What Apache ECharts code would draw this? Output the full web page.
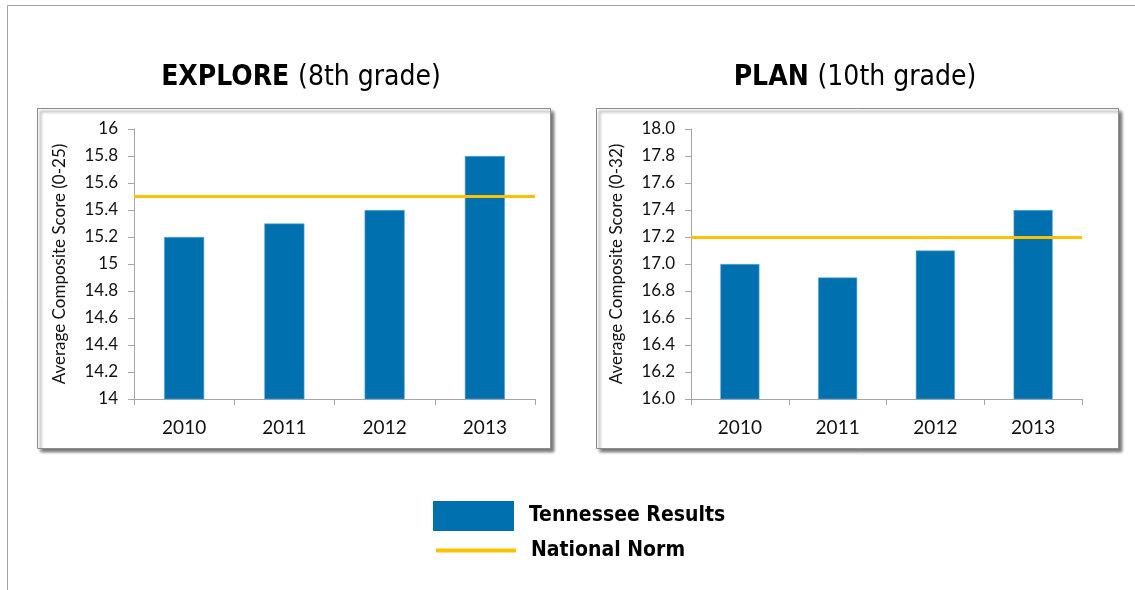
<!DOCTYPE html>
<html>
<head>
<meta charset="utf-8">
<script src="https://cdn.jsdelivr.net/npm/echarts@6/dist/echarts.min.js"></script>
<style>
  html, body { margin: 0; padding: 0; background: #fff; }
  #chart { width: 1135px; height: 590px; }
</style>
</head>
<body>
<div id="chart"></div>
<script>
// data
var years = ['2010', '2011', '2012', '2013'];
var exploreScores = [15.2, 15.3, 15.4, 15.8];
var planScores = [17.0, 16.9, 17.1, 17.4];
var exploreNorm = 15.5;
var planNorm = 17.2;

var BLUE = '#0070AE';
var GOLD = '#FFC000';
var AXIS = '#A6A6A6';
var LABEL_FONT = 'Lato, "Open Sans", sans-serif';
var TITLE_FONT = '"DejaVu Sans Condensed", "DejaVu Sans", sans-serif';

var chart = echarts.init(document.getElementById('chart'));

function xAxisOf(grid) {
  return {
    type: 'category',
    gridIndex: grid,
    data: years,
    axisLine: { lineStyle: { color: AXIS } },
    axisTick: { show: true, length: 6, lineStyle: { color: AXIS } },
    axisLabel: { color: '#111', fontSize: 19, fontFamily: LABEL_FONT, margin: 19 }
  };
}

function yAxisOf(grid, min, max, name, fixed) {
  return {
    type: 'value',
    gridIndex: grid,
    min: min,
    max: max,
    interval: 0.2,
    name: name,
    nameLocation: 'middle',
    nameGap: 66,
    nameTextStyle: { color: '#111', fontSize: 17, fontFamily: LABEL_FONT },
    axisLine: { show: true, lineStyle: { color: AXIS } },
    axisTick: { show: true, length: 6, lineStyle: { color: AXIS } },
    splitLine: { show: false },
    axisLabel: {
      color: '#111', fontSize: 17, fontFamily: LABEL_FONT, margin: 16,
      formatter: function (v) { return fixed ? v.toFixed(1) : String(+v.toFixed(1)); }
    }
  };
}

function panelBox(x, y, w, h) {
  return {
    type: 'rect',
    z: -10,
    shape: { x: x, y: y, width: w, height: h },
    style: {
      fill: '#fff', stroke: '#8c8c8c', lineWidth: 1,
      shadowBlur: 3, shadowOffsetX: 3, shadowOffsetY: 3, shadowColor: 'rgba(0,0,0,0.55)'
    }
  };
}

function titleText(x, bold, rest) {
  return {
    type: 'text',
    x: x,
    y: 78,
    style: {
      text: '{b|' + bold + ' }{n|' + rest + '}',
      textAlign: 'center',
      textVerticalAlign: 'middle',
      rich: {
        b: { fontFamily: TITLE_FONT, fontWeight: 'bold', fontSize: 28, fill: '#000' },
        n: { fontFamily: TITLE_FONT, fontSize: 28, fill: '#000' }
      }
    }
  };
}

function normSeries(grid, value) {
  return {
    name: 'National Norm',
    type: 'line',
    xAxisIndex: grid,
    yAxisIndex: grid,
    data: [],
    symbol: 'none',
    lineStyle: { color: GOLD, width: 4 },
    itemStyle: { color: GOLD },
    markLine: {
      silent: true,
      symbol: 'none',
      label: { show: false },
      lineStyle: { color: GOLD, width: 3, type: 'solid' },
      data: [{ yAxis: value }]
    }
  };
}

function barSeries(grid, data) {
  return {
    name: 'Tennessee Results',
    type: 'bar',
    xAxisIndex: grid,
    yAxisIndex: grid,
    barWidth: '40%',
    itemStyle: { color: BLUE, borderColor: '#5fa8d6', borderWidth: 0.6 },
    data: data
  };
}

var legendText = {
  fontFamily: TITLE_FONT, fontWeight: 'bold', fontSize: 21, color: '#000',
  padding: [0, 0, 0, 10]
};

var option = {
  backgroundColor: '#fff',
  animation: false,
  graphic: [
    { type: 'polyline', shape: { points: [[7.5, 590], [7.5, 5.5], [1135, 5.5]] },
      style: { stroke: '#a0a0a0', lineWidth: 1, fill: null } },
    panelBox(37.5, 108.5, 513, 340),
    panelBox(596.5, 108.5, 522, 340),
    titleText(301, 'EXPLORE', '(8th grade)'),
    titleText(855, 'PLAN', '(10th grade)')
  ],
  legend: [
    {
      data: [{ name: 'Tennessee Results', icon: 'rect' }],
      left: 433, top: 501, padding: 0,
      itemWidth: 81, itemHeight: 30,
      itemStyle: { borderWidth: 0 },
      selectedMode: false,
      textStyle: legendText
    },
    {
      data: [{ name: 'National Norm', icon: 'rect' }],
      left: 436, top: 540, padding: 0,
      itemWidth: 80, itemHeight: 4,
      selectedMode: false,
      textStyle: legendText
    }
  ],
  grid: [
    { left: 134, top: 129, width: 401, height: 270 },
    { left: 691, top: 129, width: 391, height: 270 }
  ],
  xAxis: [xAxisOf(0), xAxisOf(1)],
  yAxis: [
    yAxisOf(0, 14, 16, 'Average Composite Score (0-25)', false),
    yAxisOf(1, 16, 18, 'Average Composite Score (0-32)', true)
  ],
  series: [
    barSeries(0, exploreScores),
    normSeries(0, exploreNorm),
    barSeries(1, planScores),
    normSeries(1, planNorm)
  ]
};

chart.setOption(option);
</script>
</body>
</html>
